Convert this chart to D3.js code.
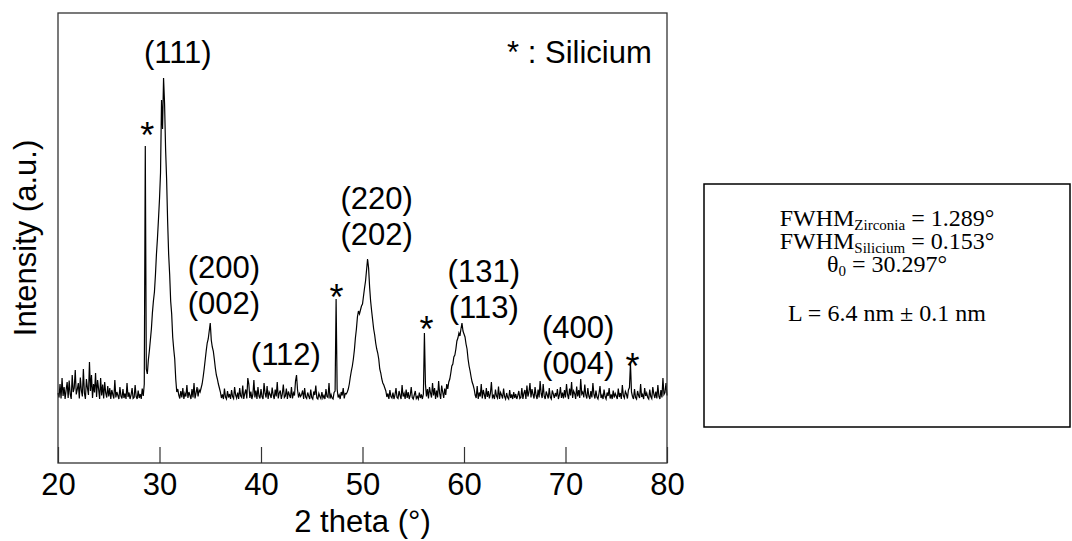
<!DOCTYPE html>
<html>
<head>
<meta charset="utf-8">
<script src="https://cdn.jsdelivr.net/npm/d3@7"></script>
<style>
  body { margin: 0; background: #fff; }
  svg { display: block; }
</style>
</head>
<body>
<div id="chart"></div>
<script>
// XRD scan: 2 theta from 20 to 80 deg, step 0.1 deg, counts (a.u.)
const scanStart = 20;
const scanStep = 0.1;
const intensity = [
  140,131,158,129,170,134,152,128,146,162, // 20
  130,165,138,128,176,142,150,186,137,147, // 21
  160,129,171,145,133,188,140,128,168,150, // 22
  136,202,144,176,130,158,141,180,132,166, // 23
  148,128,170,135,157,129,162,140,131,154, // 24
  133,150,128,146,137,129,166,131,142,135, // 25
  128,152,134,129,148,130,139,128,160,132, // 26
  141,128,136,150,129,131,156,133,128,145, // 27
  130,138,128,149,134,158,634,188,178,206, // 28
  224,246,268,300,324,342,376,418,450,488, // 29
  528,580,726,668,770,718,628,568,484,418, // 30
  378,324,298,252,228,208,168,142,148,136, // 31
  129,144,131,150,128,139,133,156,130,142, // 32
  135,128,148,131,160,129,140,152,133,146, // 33
  142,150,158,172,188,206,224,240,248,264, // 34
  280,246,232,224,208,190,176,168,158,150, // 35
  142,130,137,128,149,132,128,144,131,138, // 36
  128,146,133,129,152,136,130,141,128,150, // 37
  134,131,155,128,139,147,129,170,158,130, // 38
  143,128,137,166,131,145,128,152,134,129, // 39
  148,133,128,160,139,131,154,128,142,137, // 40
  130,151,136,128,147,133,162,129,140,145, // 41
  128,138,157,131,134,149,128,143,136,130, // 42
  152,129,140,135,164,176,146,131,139,133, // 43
  137,145,128,150,132,129,141,134,128,147, // 44
  131,128,143,136,155,130,128,139,133,129, // 45
  142,130,135,128,148,133,131,160,129,137, // 46
  130,128,141,144,328,148,131,136,128,142, // 47
  135,150,129,139,138,142,148,158,172,184, // 48
  194,208,226,250,268,292,304,298,306,314, // 49
  318,334,350,364,386,408,390,352,324,304, // 50
  286,268,256,240,228,220,208,188,180,168, // 51
  160,156,150,144,132,139,128,146,133,130, // 52
  141,128,136,150,131,129,144,135,128,156, // 53
  133,139,128,147,130,142,128,135,152,131, // 54
  128,136,144,129,133,128,141,130,137,128, // 55
  138,260,158,133,148,129,152,140,131,160, // 56
  135,150,128,145,131,164,139,128,155,142, // 57
  130,149,136,158,148,162,168,180,194,198, // 58
  212,216,228,244,250,260,254,268,280,264, // 59
  258,252,238,228,208,194,184,172,162,156, // 60
  148,136,130,154,128,141,133,158,129,146, // 61
  137,128,150,132,144,129,139,162,131,135, // 62
  128,147,134,130,153,128,141,136,129,149, // 63
  133,128,140,131,128,146,130,137,128,142, // 64
  130,138,128,135,144,129,131,150,128,139, // 65
  146,128,155,133,142,160,131,148,137,129, // 66
  152,135,128,147,131,164,139,130,158,134, // 67
  128,143,136,129,150,132,128,145,138,130, // 68
  140,133,148,128,136,152,130,141,129,146, // 69
  131,158,137,128,149,135,162,130,144,139, // 70
  128,153,133,146,130,168,138,142,131,157, // 71
  136,129,150,134,128,144,131,160,137,129, // 72
  145,132,128,139,154,130,136,128,147,133, // 73
  128,141,134,150,129,137,128,145,131,139, // 74
  134,128,149,132,140,128,156,135,130,143, // 75
  138,129,146,151,200,142,133,128,148,131, // 76
  128,144,135,130,158,132,137,128,150,134, // 77
  140,131,128,147,133,129,152,138,130,143, // 78
  129,156,134,128,146,131,170,137,141,160, // 79
  135                                      // 80
];

const xTicks = [20, 30, 40, 50, 60, 70, 80];

// reflection labels, anchored in data units (2 theta, counts) of the first line
const hklLabels = [
  { lines: ["(111)"], theta: 31.8, counts: 800 },
  { lines: ["(200)", "(002)"], theta: 36.35, counts: 370 },
  { lines: ["(112)"], theta: 42.45, counts: 196 },
  { lines: ["(220)", "(202)"], theta: 51.4, counts: 508 },
  { lines: ["(131)", "(113)"], theta: 61.95, counts: 362 },
  { lines: ["(400)", "(004)"], theta: 71.25, counts: 250 },
];

// silicon reference peaks, marked with "*"
const siliconMarks = [
  { theta: 28.8, counts: 630 },
  { theta: 47.45, counts: 306 },
  { theta: 56.3, counts: 242 },
  { theta: 76.6, counts: 168 },
];

const fitResults = [
  { main: "FWHM", sub: "Zirconia", rest: " = 1.289°" },
  { main: "FWHM", sub: "Silicium", rest: " = 0.153°" },
  { main: "θ", sub: "0", rest: " = 30.297°" },
  { main: "L = 6.4 nm ± 0.1 nm", sub: "", rest: "" },
];
const fitLineY = [226, 249, 272, 321];

const size = { width: 1072, height: 541 };
const plot = { left: 58, right: 667, top: 13, bottom: 463 };
const sans = "Arial, 'Liberation Sans', Helvetica, sans-serif";
const serif = "'Times New Roman', 'Liberation Serif', Times, serif";

const svg = d3.select("#chart")
  .append("svg")
  .attr("width", size.width)
  .attr("height", size.height);

const x = d3.scaleLinear().domain([20, 80]).range([plot.left, plot.right]);
const y = d3.scaleLinear().domain([0, 900]).range([plot.bottom, plot.top]);

const points = intensity.map((v, i) => [scanStart + i * scanStep, v]);

const line = d3.line()
  .x((d) => x(d[0]))
  .y((d) => y(d[1]));

svg.append("path")
  .datum(points)
  .attr("d", line)
  .attr("fill", "none")
  .attr("stroke", "#000")
  .attr("stroke-width", 1.2)
  .attr("stroke-linejoin", "miter");

// bottom axis, ticks pointing inward
const xAxis = svg.append("g")
  .attr("transform", `translate(0, ${plot.bottom})`)
  .call(
    d3.axisBottom(x)
      .tickValues(xTicks)
      .tickSizeInner(-16)
      .tickSizeOuter(0)
      .tickPadding(10)
      .tickFormat(d3.format("d"))
  );
xAxis.select(".domain").remove();
xAxis.selectAll(".tick line").attr("stroke", "#333").attr("stroke-width", 1.2);
xAxis.selectAll(".tick text")
  .style("font-family", sans)
  .style("font-size", "31px")
  .attr("fill", "#000");

// frame
svg.append("rect")
  .attr("x", plot.left)
  .attr("y", plot.top)
  .attr("width", plot.right - plot.left)
  .attr("height", plot.bottom - plot.top)
  .attr("fill", "none")
  .attr("stroke", "#333")
  .attr("stroke-width", 1.3);

// axis titles
svg.append("text")
  .attr("x", (plot.left + plot.right) / 2)
  .attr("y", 532)
  .attr("text-anchor", "middle")
  .style("font-family", sans)
  .style("font-size", "31px")
  .text("2 theta (°)");

svg.append("text")
  .attr("transform", `translate(36, ${(plot.top + plot.bottom) / 2}) rotate(-90)`)
  .attr("text-anchor", "middle")
  .style("font-family", sans)
  .style("font-size", "31px")
  .text("Intensity (a.u.)");

// reflection labels
const labels = svg.append("g")
  .style("font-family", sans)
  .style("font-size", "31px");

labels.selectAll("text")
  .data(hklLabels)
  .join("text")
  .attr("text-anchor", "middle")
  .attr("x", (d) => x(d.theta))
  .attr("y", (d) => y(d.counts))
  .selectAll("tspan")
  .data((d) => d.lines.map((t) => ({ t, theta: d.theta })))
  .join("tspan")
  .attr("x", (d) => x(d.theta))
  .attr("dy", (d, i) => (i === 0 ? 0 : 36))
  .text((d) => d.t);

labels.selectAll(".si")
  .data(siliconMarks)
  .join("text")
  .attr("class", "si")
  .attr("text-anchor", "middle")
  .attr("x", (d) => x(d.theta))
  .attr("y", (d) => y(d.counts))
  .style("font-size", "36px")
  .text("*");

labels.append("text")
  .attr("text-anchor", "end")
  .attr("x", x(78.5))
  .attr("y", y(800))
  .text("* : Silicium");

// fit results box
const box = svg.append("g");
box.append("rect")
  .attr("x", 704)
  .attr("y", 184)
  .attr("width", 366)
  .attr("height", 243)
  .attr("fill", "none")
  .attr("stroke", "#000")
  .attr("stroke-width", 1.5);

const boxText = box.selectAll("text")
  .data(fitResults)
  .join("text")
  .attr("text-anchor", "middle")
  .attr("x", 887)
  .attr("y", (d, i) => fitLineY[i])
  .style("font-family", serif)
  .style("font-size", "24px")
  .attr("fill", "#000");

boxText.append("tspan").text((d) => d.main);
boxText.filter((d) => d.sub)
  .append("tspan")
  .attr("dy", 4)
  .style("font-size", "15px")
  .text((d) => d.sub);
boxText.filter((d) => d.rest)
  .append("tspan")
  .attr("dy", -4)
  .text((d) => d.rest);
</script>
</body>
</html>
